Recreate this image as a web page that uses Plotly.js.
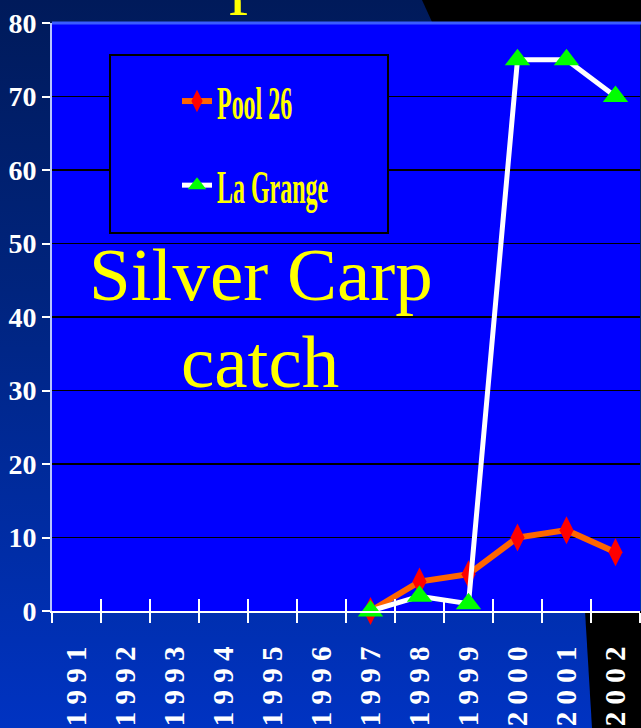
<!DOCTYPE html>
<html>
<head>
<meta charset="utf-8">
<script src="https://cdn.plot.ly/plotly-3.0.1.min.js"></script>
<style>
  html, body { margin: 0; padding: 0; }
  body { width: 641px; height: 728px; overflow: hidden;
         background: linear-gradient(180deg, #001a5a 0%, #00247e 40%, #0033c2 100%); }
  #chart { width: 641px; height: 728px; }
  .legendtext { transform-box: fill-box; transform-origin: left center; transform: scaleX(0.51); }
</style>
</head>
<body>
<div id="chart"></div>
<script>
// ---- data ----
const years = [1991, 1992, 1993, 1994, 1995, 1996, 1997, 1998, 1999, 2000, 2001, 2002];
const yearLabels = ["1 9 9 1", "1 9 9 2", "1 9 9 3", "1 9 9 4", "1 9 9 5", "1 9 9 6",
                    "1 9 9 7", "1 9 9 8", "1 9 9 9", "2 0 0 0", "2 0 0 1", "2 0 0 2"];
const sampleYears = [1997, 1998, 1999, 2000, 2001, 2002];
const pool26 = [0, 4, 5, 10, 11, 8];
const laGrange = [0, 2, 1, 75, 75, 70];
const seriesNames = ["Pool 26", "La Grange"];
const yTicks = [0, 10, 20, 30, 40, 50, 60, 70, 80];

// ---- geometry helpers (pixel -> paper) ----
const L = 52, T = 23, W = 588, H = 588;
const px = x => (x - L) / W;
const py = y => (T + H - y) / H;

const traces = [
  {
    x: sampleYears, y: pool26, name: seriesNames[0], legendgroup: "a",
    mode: "lines+markers", cliponaxis: false,
    line: { color: "#ff6600", width: 6 },
    marker: { symbol: "diamond-tall", size: 20, color: "#ff0000", line: { width: 0 } }
  },
  {
    x: sampleYears, y: laGrange, name: seriesNames[1], legendgroup: "b",
    mode: "lines+markers", cliponaxis: false,
    line: { color: "#ffffff", width: 5 },
    marker: { symbol: "triangle-up", size: 22, color: "#00ff00", line: { width: 0 } }
  },
  // empty trace so the overlaid tick axis (inside half of the crossing ticks) is drawn
  { x: [], y: [], xaxis: "x2", yaxis: "y", showlegend: false, hoverinfo: "skip", mode: "markers" }
];

const serif = "Liberation Serif, Times New Roman, serif";

const layout = {
  width: 641, height: 728,
  margin: { l: L, r: 641 - L - W, t: T, b: 728 - T - H },
  paper_bgcolor: "rgba(0,0,0,0)",
  plot_bgcolor: "#0000ff",
  showlegend: true,
  legend: {
    x: px(177), y: py(64), xanchor: "left", yanchor: "top",
    bgcolor: "rgba(0,0,0,0)", borderwidth: 0,
    font: { family: serif, size: 47, color: "#ffff00", weight: "bold" },
    tracegroupgap: 20, itemwidth: 30
  },
  xaxis: {
    type: "linear", range: [1990.5, 2002.5],
    tickmode: "array", tickvals: years, ticktext: yearLabels,
    tickangle: -90, ticks: "", ticklabelstandoff: 22,
    tickfont: { family: serif, size: 29, color: "#ffffff", weight: "bold" },
    showgrid: false, zeroline: false,
    showline: true, linecolor: "#ffffff", linewidth: 2,
    minor: { tickmode: "linear", tick0: 1990.5, dtick: 1, ticks: "outside",
             ticklen: 10, tickcolor: "#ffffff", tickwidth: 2, showgrid: false }
  },
  xaxis2: {
    type: "linear", range: [1990.5, 2002.5], overlaying: "x", anchor: "y", side: "bottom",
    tickmode: "linear", tick0: 1990.5, dtick: 1, ticks: "inside", ticklen: 12,
    tickcolor: "#ffffff", tickwidth: 2, showticklabels: false,
    showgrid: false, zeroline: false, showline: false
  },
  yaxis: {
    range: [0, 80], tickmode: "array", tickvals: yTicks,
    ticks: "outside", ticklen: 8, tickcolor: "#ffffff", tickwidth: 2,
    tickfont: { family: serif, size: 28, color: "#ffffff", weight: "bold" },
    showgrid: true, gridcolor: "#000000", gridwidth: 1.5,
    zeroline: false, showline: true, linecolor: "#b8c4ff", linewidth: 2
  },
  shapes: [
    // slide background decorations
    { type: "path", xref: "paper", yref: "paper", layer: "below",
      path: `M ${px(422)} ${py(0)} L ${px(641)+0.01} ${py(0)} L ${px(641)+0.01} 1 L ${px(432.5)} 1 Z`,
      fillcolor: "#000000", line: { width: 0 } },
    { type: "path", xref: "paper", yref: "paper", layer: "below",
      path: `M ${px(585)} 0 L ${px(592)} ${py(728)} L ${px(641)+0.01} ${py(728)} L ${px(641)+0.01} 0 Z`,
      fillcolor: "#000000", line: { width: 0 } },
    // light top border of the plot area
    { type: "line", xref: "paper", yref: "paper", x0: 0, x1: 1.01, y0: 1, y1: 1,
      line: { color: "#3a5cff", width: 3 } },
    // legend box
    { type: "rect", xref: "paper", yref: "paper", layer: "above",
      x0: px(110), x1: px(388), y0: py(233), y1: py(55),
      fillcolor: "#0000ff", line: { color: "#000000", width: 2 } }
  ],
  annotations: [
    { text: "p", xref: "paper", yref: "paper", x: px(248), y: py(-27), xanchor: "center", yanchor: "middle",
      showarrow: false, font: { family: serif, size: 76, color: "#ffff00" } },
    { text: "Silver Carp", xref: "paper", yref: "paper", x: px(261), y: py(274), xanchor: "center", yanchor: "middle",
      showarrow: false, font: { family: serif, size: 75, color: "#ffff00" } },
    { text: "catch", xref: "paper", yref: "paper", x: px(260), y: py(362), xanchor: "center", yanchor: "middle",
      showarrow: false, font: { family: serif, size: 75, color: "#ffff00" } }
  ]
};

Plotly.newPlot("chart", traces, layout, { displayModeBar: false, staticPlot: true });
</script>
</body>
</html>
